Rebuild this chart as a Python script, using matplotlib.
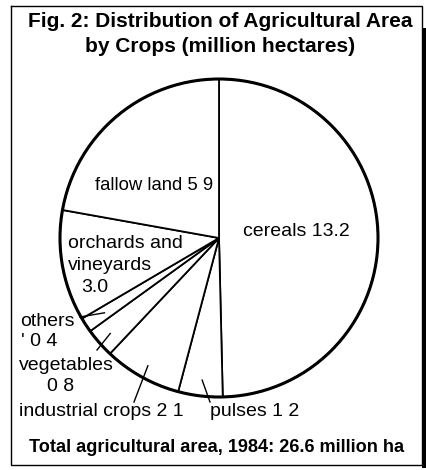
import numpy as np
import matplotlib
matplotlib.use("Agg")
import matplotlib.pyplot as plt
from matplotlib.patches import Circle, Rectangle

plt.rcParams['font.family'] = ['Liberation Sans', 'DejaVu Sans']

crops = ['cereals', 'pulses', 'industrial crops', 'vegetables', 'others',
         'orchards and vineyards', 'fallow land']
area = [13.2, 1.2, 2.1, 0.8, 0.4, 3.0, 5.9]
total_area = 26.6

W, H = 427, 470


def py(y):
    # picture y (from top) -> axes y
    return H - y


fig = plt.figure(figsize=(W / 100, H / 100), dpi=100)
ax = fig.add_axes([0, 0, 1, 1])

cx, cy, R = 219, py(238), 159
wedges, _ = ax.pie(area, startangle=90, counterclock=False, center=(cx, cy),
                   radius=R, colors=['white'] * len(area),
                   wedgeprops=dict(edgecolor='black', linewidth=1.3))
ax.add_patch(Circle((cx, cy), R, fill=False, edgecolor='black', linewidth=2.2))
ax.set_xlim(0, W)
ax.set_ylim(0, H)
ax.set_aspect('equal')
ax.axis('off')

# frame
fx0, fx1, fy0, fy1 = 11, 422, py(6), py(465)
ax.plot([fx0, fx1, fx1, fx0, fx0], [fy0, fy0, fy1, fy1, fy0], color='black',
        linewidth=1.0, solid_joinstyle='miter')
ax.add_patch(Rectangle((422, py(468)), 5, 440, facecolor='black', edgecolor='none'))

ax.text(220, py(21), 'Fig. 2: Distribution of Agricultural Area', ha='center', va='center',
        fontsize=15, fontweight='bold')
ax.text(220, py(46), 'by Crops (million hectares)', ha='center', va='center',
        fontsize=15, fontweight='bold')
ax.text(217, py(448), 'Total agricultural area, 1984: 26.6 million ha', ha='center',
        va='center', fontsize=13.1, fontweight='bold')

fs = 14
ax.text(243, py(232), 'cereals 13.2', ha='left', va='center', fontsize=fs)
ax.text(213, py(186), 'fallow land 5 9', ha='right', va='center', fontsize=13.3)
ax.text(68, py(243), 'orchards and', ha='left', va='center', fontsize=fs)
ax.text(68, py(265), 'vineyards', ha='left', va='center', fontsize=fs)
ax.text(81, py(288), '3.0', ha='left', va='center', fontsize=fs)
ax.text(20, py(321), 'others', ha='left', va='center', fontsize=fs)
ax.text(21, py(341), "' 0 4", ha='left', va='center', fontsize=fs)
ax.text(19, py(366), 'vegetables', ha='left', va='center', fontsize=fs)
ax.text(47, py(387), '0 8', ha='left', va='center', fontsize=fs)
ax.text(19, py(412), 'industrial crops 2 1', ha='left', va='center', fontsize=fs)
ax.text(210, py(412), 'pulses 1 2', ha='left', va='center', fontsize=fs)

# leader lines from inside small wedges to their labels
leaders = {1: (0.9, (210, 402)), 2: (0.92, (134, 402)),
           3: (0.91, (97, 350)), 4: (0.86, (80, 317))}
for i, (frac, (ex, ey)) in leaders.items():
    w = wedges[i]
    mid = np.deg2rad((w.theta1 + w.theta2) / 2)
    sx = cx + frac * R * np.cos(mid)
    sy = cy + frac * R * np.sin(mid)
    ax.plot([sx, ex], [sy, py(ey)], color='black', linewidth=1.0)

fig.savefig('out.png', dpi=100)
